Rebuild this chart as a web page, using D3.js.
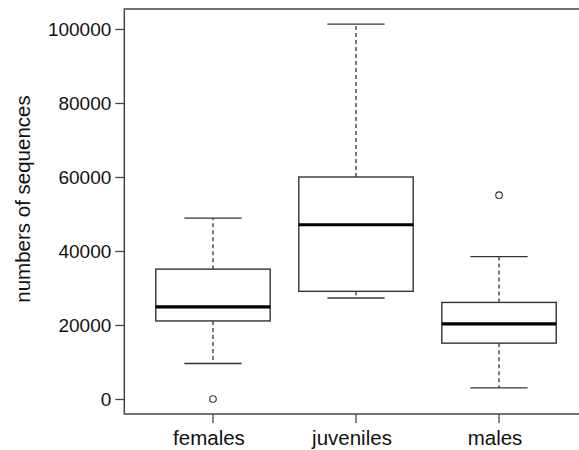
<!DOCTYPE html>
<html>
<head>
<meta charset="utf-8">
<script src="https://cdn.jsdelivr.net/npm/d3@7"></script>
<style>
  body { margin: 0; background: #fff; }
  svg { display: block; font-family: Arial, "Liberation Sans", sans-serif; }
</style>
</head>
<body>
<svg></svg>
<script>
const width = 579;
const height = 450;

// values
const groups = ['females', 'juveniles', 'males'];
const whiskerLow = [9600, 27300, 3000];
const q1 = [21100, 29100, 15100];
const medians = [24900, 47100, 20300];
const q3 = [35100, 60000, 26100];
const whiskerHigh = [48900, 101300, 38500];
const outliers = [[0], [], [55100]];
const yTicks = [0, 20000, 40000, 60000, 80000, 100000];

const svg = d3.select('svg')
    .attr('width', width)
    .attr('height', height);

const frame = { left: 124.3, right: 587.7, top: 9, bottom: 414 };

const x = d3.scaleBand()
    .domain(groups)
    .range([frame.left, frame.right])
    .paddingInner(0)
    .paddingOuter(0.12);

const y = d3.scaleLinear()
    .domain([-4054, 105405])
    .range([frame.bottom, frame.top]);

const boxW = x.bandwidth() * 0.8;
const capW = boxW * 0.5;
const cx = g => x(g) + x.bandwidth() / 2;

const data = groups.map((g, i) => ({
    name: g,
    lo: whiskerLow[i],
    q1: q1[i],
    med: medians[i],
    q3: q3[i],
    hi: whiskerHigh[i],
    out: outliers[i]
}));

// frame (right side runs off the picture)
svg.append('rect')
    .attr('x', frame.left)
    .attr('y', frame.top)
    .attr('width', frame.right - frame.left)
    .attr('height', frame.bottom - frame.top)
    .attr('fill', 'none')
    .attr('stroke', '#444')
    .attr('stroke-width', 1.5);

// y axis
const yAxis = d3.axisLeft(y)
    .tickValues(yTicks)
    .tickSize(9)
    .tickPadding(4)
    .tickFormat(d3.format('d'));

const ya = svg.append('g')
    .attr('transform', `translate(${frame.left},0)`)
    .call(yAxis);
ya.select('.domain').remove();
ya.selectAll('.tick line').attr('stroke', '#444').attr('stroke-width', 1.3);
ya.selectAll('.tick text')
    .attr('fill', '#111')
    .style('font-size', '19px')
    .style('font-family', 'Arial, "Liberation Sans", sans-serif');

// x axis
const xAxis = d3.axisBottom(x)
    .tickSize(9)
    .tickPadding(7);

const xa = svg.append('g')
    .attr('transform', `translate(0,${frame.bottom})`)
    .call(xAxis);
xa.select('.domain').remove();
xa.selectAll('.tick line').attr('stroke', '#444').attr('stroke-width', 1.3);
xa.selectAll('.tick text')
    .attr('fill', '#111')
    .attr('dx', -4)
    .style('font-size', '20.5px')
    .style('font-family', 'Arial, "Liberation Sans", sans-serif');

// y title
svg.append('text')
    .attr('transform', `translate(30,199) rotate(-90)`)
    .attr('text-anchor', 'middle')
    .attr('fill', '#111')
    .style('font-size', '20.5px')
    .text('numbers of sequences');

// boxes
const box = svg.selectAll('g.box')
    .data(data)
    .enter().append('g')
    .attr('class', 'box');

// whiskers
box.append('line')
    .attr('x1', d => cx(d.name)).attr('x2', d => cx(d.name))
    .attr('y1', d => y(d.q3)).attr('y2', d => y(d.hi))
    .attr('stroke', '#333').attr('stroke-width', 1.3)
    .attr('stroke-dasharray', '4,3');
box.append('line')
    .attr('x1', d => cx(d.name)).attr('x2', d => cx(d.name))
    .attr('y1', d => y(d.q1)).attr('y2', d => y(d.lo))
    .attr('stroke', '#333').attr('stroke-width', 1.3)
    .attr('stroke-dasharray', '4,3');

// caps
box.selectAll('line.cap')
    .data(d => [d.lo, d.hi].map(v => ({ name: d.name, v })))
    .enter().append('line')
    .attr('class', 'cap')
    .attr('x1', d => cx(d.name) - capW / 2)
    .attr('x2', d => cx(d.name) + capW / 2)
    .attr('y1', d => y(d.v)).attr('y2', d => y(d.v))
    .attr('stroke', '#333').attr('stroke-width', 1.3);

box.append('rect')
    .attr('x', d => cx(d.name) - boxW / 2)
    .attr('y', d => y(d.q3))
    .attr('width', boxW)
    .attr('height', d => y(d.q1) - y(d.q3))
    .attr('fill', '#fff')
    .attr('stroke', '#333')
    .attr('stroke-width', 1.4);

box.append('line')
    .attr('x1', d => cx(d.name) - boxW / 2)
    .attr('x2', d => cx(d.name) + boxW / 2)
    .attr('y1', d => y(d.med)).attr('y2', d => y(d.med))
    .attr('stroke', '#000').attr('stroke-width', 3.2);

// outliers
box.selectAll('circle')
    .data(d => d.out.map(v => ({ name: d.name, v })))
    .enter().append('circle')
    .attr('cx', d => cx(d.name))
    .attr('cy', d => y(d.v))
    .attr('r', 3.3)
    .attr('fill', 'none')
    .attr('stroke', '#333')
    .attr('stroke-width', 1.1);
</script>
</body>
</html>
